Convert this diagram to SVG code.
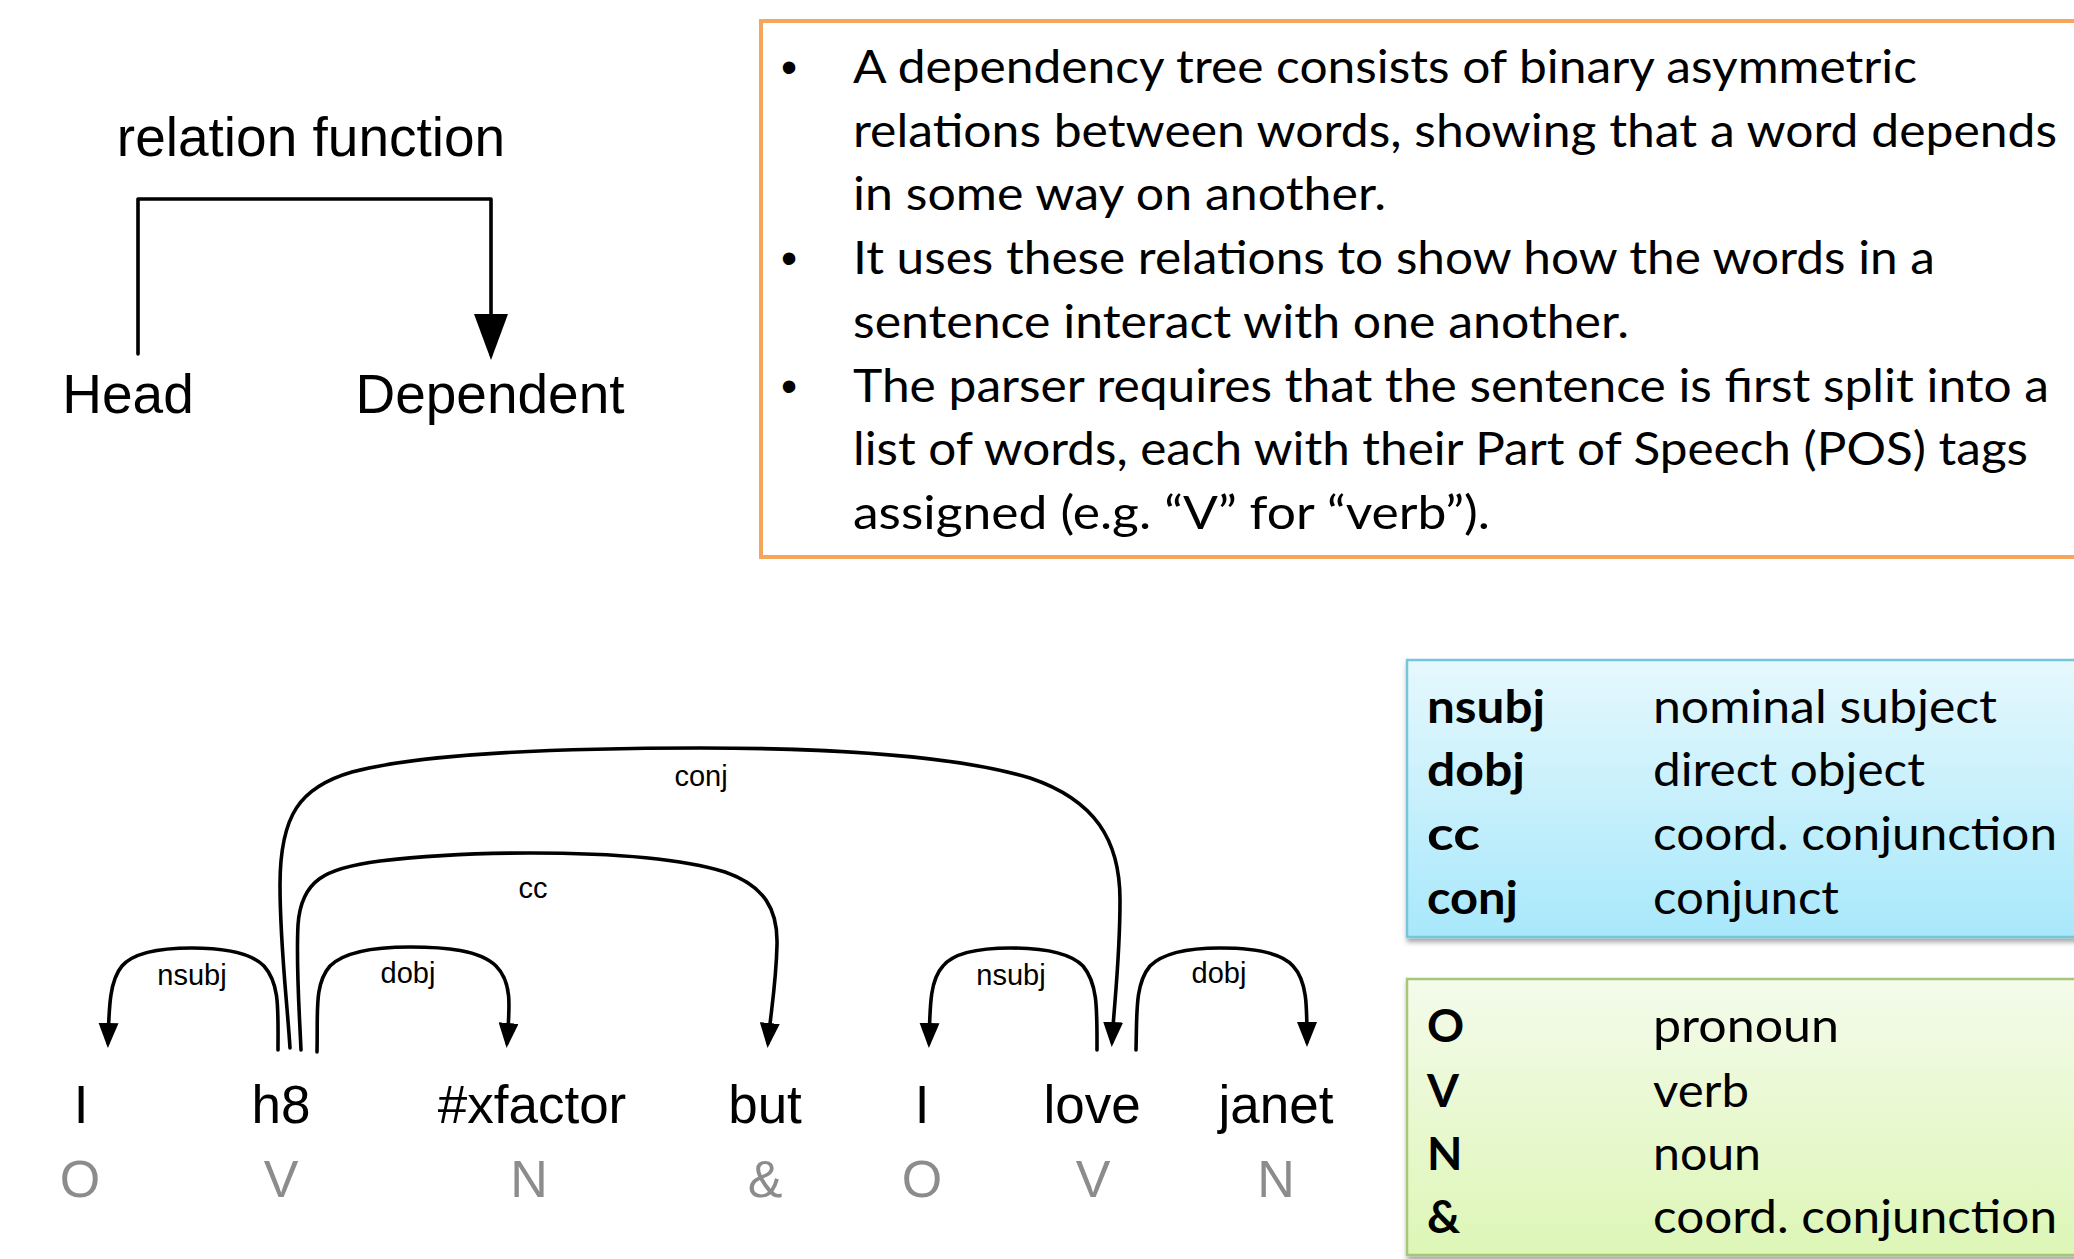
<svg xmlns="http://www.w3.org/2000/svg" width="2074" height="1259" viewBox="0 0 2074 1259">
  <style>
    .hv { font-family: "Liberation Sans", Arial, Helvetica, sans-serif; fill: #000; }
    .big { font-size: 55px; }
    .word { font-size: 53px; text-anchor: middle; }
    .tag { font-size: 52px; text-anchor: middle; fill: #8c8c8c; }
    .rel { font-size: 29px; text-anchor: middle; }
    .cal { font-family: Lato, "Open Sans", sans-serif; font-size: 46px; fill: #000; }
    .bold { font-weight: bold; }
    .bullet { font-family: "Liberation Sans", Arial, sans-serif; font-size: 46px; text-anchor: middle; }
    .arc { fill: none; stroke: #000; stroke-width: 3.6; stroke-linecap: round; stroke-linejoin: round; }
  </style>
  <defs>
    <marker id="tip" markerUnits="userSpaceOnUse" viewBox="0 0 25 20" markerWidth="25" markerHeight="20" refX="20" refY="10" orient="auto">
      <path d="M0,0 L25,10 L0,20 Z" fill="#000"/>
    </marker>
    <marker id="tipBig" markerUnits="userSpaceOnUse" viewBox="0 0 46 34" markerWidth="46" markerHeight="34" refX="40" refY="17" orient="auto">
      <path d="M0,0 L46,17 L0,34 Z" fill="#000"/>
    </marker>
    <linearGradient id="blueFill" x1="0" y1="0" x2="0" y2="1">
      <stop offset="0" stop-color="#e6f8fd"/>
      <stop offset="1" stop-color="#a8e8fb"/>
    </linearGradient>
    <linearGradient id="greenFill" x1="0" y1="0" x2="0" y2="1">
      <stop offset="0" stop-color="#f4fbeb"/>
      <stop offset="1" stop-color="#ddf6b6"/>
    </linearGradient>
    <filter id="shadow" x="-5%" y="-5%" width="110%" height="120%">
      <feDropShadow dx="1" dy="4" stdDeviation="2.5" flood-color="#000" flood-opacity="0.35"/>
    </filter>
  </defs>

  <rect width="2074" height="1259" fill="#fff"/>

  <!-- head / dependent schema -->
  <g id="schema">
    <text class="hv big" x="311" y="156" text-anchor="middle">relation function</text>
    <path class="arc" d="M138,354 L138,199 L491,199 L491,354" stroke-width="4" stroke-linecap="butt" marker-end="url(#tipBig)"/>
    <text class="hv big" x="128" y="413" text-anchor="middle">Head</text>
    <text class="hv big" x="490" y="413" text-anchor="middle">Dependent</text>
  </g>

  <!-- explanation box -->
  <g id="notes">
    <rect x="761" y="21" width="1330" height="536" fill="#fff" stroke="#f6a65a" stroke-width="4"/>
    <text class="bullet" x="789" y="83">•</text>
    <text class="bullet" x="789" y="274">•</text>
    <text class="bullet" x="789" y="402">•</text>
    <text class="cal" x="853" y="83" textLength="1064" lengthAdjust="spacingAndGlyphs">A dependency tree consists of binary asymmetric</text>
    <text class="cal" x="853" y="147" textLength="1204" lengthAdjust="spacingAndGlyphs">relations between words, showing that a word depends</text>
    <text class="cal" x="853" y="210" textLength="533" lengthAdjust="spacingAndGlyphs">in some way on another.</text>
    <text class="cal" x="853" y="274" textLength="1082" lengthAdjust="spacingAndGlyphs">It uses these relations to show how the words in a</text>
    <text class="cal" x="853" y="338" textLength="776" lengthAdjust="spacingAndGlyphs">sentence interact with one another.</text>
    <text class="cal" x="853" y="402" textLength="1196" lengthAdjust="spacingAndGlyphs">The parser requires that the sentence is first split into a</text>
    <text class="cal" x="853" y="465" textLength="1175" lengthAdjust="spacingAndGlyphs">list of words, each with their Part of Speech (POS) tags</text>
    <text class="cal" x="853" y="529" textLength="637" lengthAdjust="spacingAndGlyphs">assigned (e.g. “V” for “verb”).</text>
  </g>

  <!-- sentence tokens with POS tags -->
  <g id="tok-I1"><text class="hv word" x="81" y="1123">I</text><text class="hv tag" x="80" y="1197">O</text></g>
  <g id="tok-h8"><text class="hv word" x="281" y="1123">h8</text><text class="hv tag" x="281" y="1197">V</text></g>
  <g id="tok-xfactor"><text class="hv word" x="532" y="1123">#xfactor</text><text class="hv tag" x="529" y="1197">N</text></g>
  <g id="tok-but"><text class="hv word" x="765" y="1123">but</text><text class="hv tag" x="765" y="1197">&amp;</text></g>
  <g id="tok-I2"><text class="hv word" x="922" y="1123">I</text><text class="hv tag" x="922" y="1197">O</text></g>
  <g id="tok-love"><text class="hv word" x="1092" y="1123">love</text><text class="hv tag" x="1093" y="1197">V</text></g>
  <g id="tok-janet"><text class="hv word" x="1276" y="1123">janet</text><text class="hv tag" x="1276" y="1197">N</text></g>

  <!-- dependency arcs -->
  <g id="connectors">
    <!-- h8 -> I : nsubj -->
    <path class="arc" marker-end="url(#tip)" d="M278,1050 C278,1010 280,984 264,966 C248,950 215,948 192,948 C165,948 135,951 122,966 C110,980 109,1005 108,1043"/>
    <text class="hv rel" x="192" y="985">nsubj</text>
    <!-- h8 -> #xfactor : dobj -->
    <path class="arc" marker-end="url(#tip)" d="M317,1052 C318,1012 314,984 330,966 C346,950 380,947 410,947 C445,947 480,950 496,966 C512,982 510,1005 507,1043"/>
    <text class="hv rel" x="408" y="983">dobj</text>
    <!-- h8 -> but : cc -->
    <path class="arc" marker-end="url(#tip)" d="M301,1050 C299,1005 296,965 298,925 C301,880 325,868 380,861 C430,855 480,853 530,853 C610,853 680,858 725,872 C765,886 778,910 777,945 C776,985 771,1010 768,1043"/>
    <text class="hv rel" x="533" y="898">cc</text>
    <!-- h8 -> love : conj -->
    <path class="arc" marker-end="url(#tip)" d="M290,1048 C287,1000 280,945 280,885 C280,815 300,787 352,772 C420,754 560,748 700,748 C840,748 960,757 1030,778 C1095,800 1120,840 1120,900 C1120,960 1114,1005 1112,1042"/>
    <text class="hv rel" x="701" y="786">conj</text>
    <!-- love -> I : nsubj -->
    <path class="arc" marker-end="url(#tip)" d="M1097,1050 C1097,1010 1098,984 1083,966 C1068,951 1035,948 1011,948 C985,948 955,951 943,966 C930,980 930,1005 929,1043"/>
    <text class="hv rel" x="1011" y="985">nsubj</text>
    <!-- love -> janet : dobj -->
    <path class="arc" marker-end="url(#tip)" d="M1136,1050 C1137,1012 1135,984 1150,966 C1165,951 1195,948 1220,948 C1250,948 1280,951 1293,966 C1307,981 1307,1005 1307,1042"/>
    <text class="hv rel" x="1219" y="983">dobj</text>
  </g>

  <!-- relation legend -->
  <g id="legend-relations">
    <rect x="1407" y="660" width="700" height="277" fill="url(#blueFill)" stroke="#77c5dc" stroke-width="2.5" filter="url(#shadow)"/>
    <text class="cal bold" x="1427" y="723" textLength="118" lengthAdjust="spacingAndGlyphs">nsubj</text>
    <text class="cal bold" x="1427" y="786" textLength="98" lengthAdjust="spacingAndGlyphs">dobj</text>
    <text class="cal bold" x="1427" y="850" textLength="53" lengthAdjust="spacingAndGlyphs">cc</text>
    <text class="cal bold" x="1427" y="914" textLength="91" lengthAdjust="spacingAndGlyphs">conj</text>
    <text class="cal" x="1653" y="723" textLength="344" lengthAdjust="spacingAndGlyphs">nominal subject</text>
    <text class="cal" x="1653" y="786" textLength="272" lengthAdjust="spacingAndGlyphs">direct object</text>
    <text class="cal" x="1653" y="850" textLength="404" lengthAdjust="spacingAndGlyphs">coord. conjunction</text>
    <text class="cal" x="1653" y="914" textLength="186" lengthAdjust="spacingAndGlyphs">conjunct</text>
  </g>

  <!-- POS tag legend -->
  <g id="legend-tags">
    <rect x="1407" y="979" width="700" height="276" fill="url(#greenFill)" stroke="#a6c777" stroke-width="2.5" filter="url(#shadow)"/>
    <text class="cal bold" x="1427" y="1042">O</text>
    <text class="cal bold" x="1427" y="1107">V</text>
    <text class="cal bold" x="1427" y="1170">N</text>
    <text class="cal bold" x="1427" y="1233">&amp;</text>
    <text class="cal" x="1653" y="1042" textLength="186" lengthAdjust="spacingAndGlyphs">pronoun</text>
    <text class="cal" x="1653" y="1107" textLength="96" lengthAdjust="spacingAndGlyphs">verb</text>
    <text class="cal" x="1653" y="1170" textLength="108" lengthAdjust="spacingAndGlyphs">noun</text>
    <text class="cal" x="1653" y="1233" textLength="404" lengthAdjust="spacingAndGlyphs">coord. conjunction</text>
  </g>
</svg>
